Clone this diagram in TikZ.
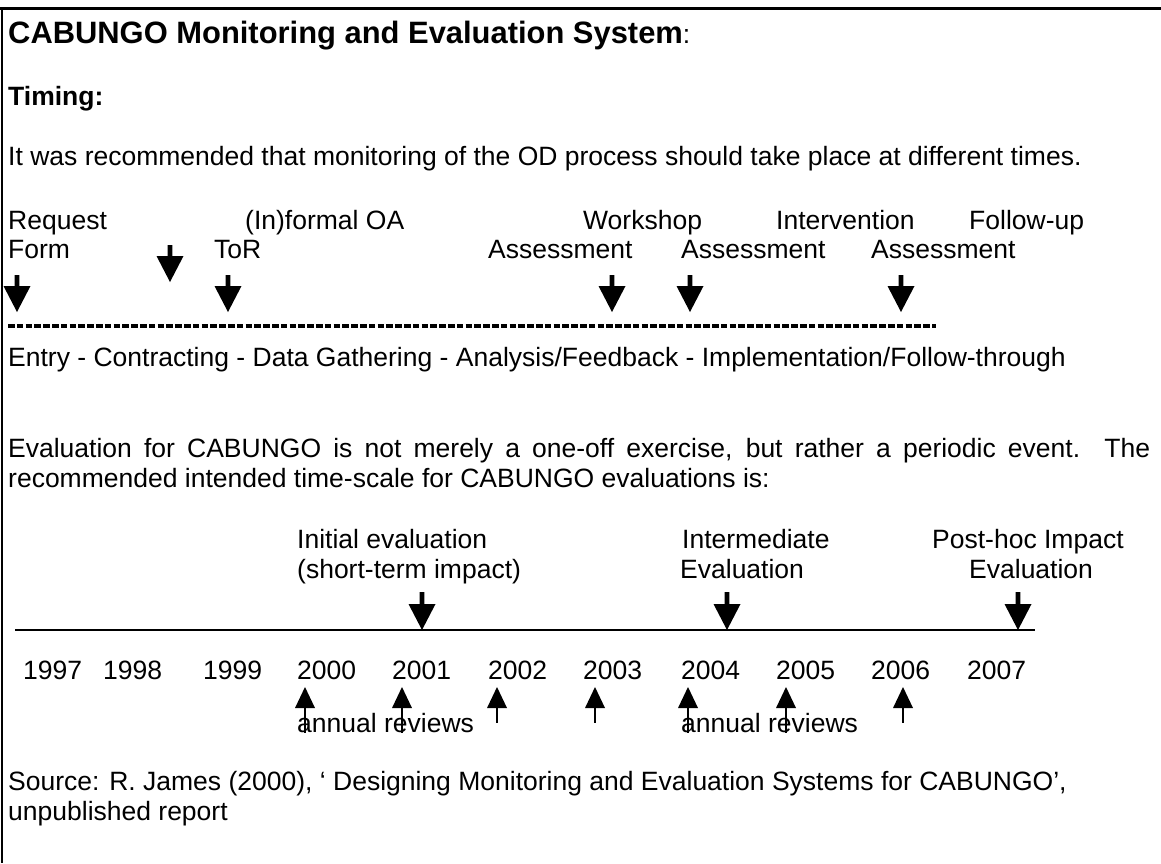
\documentclass[tikz,border=0pt]{standalone}
\usepackage{fontspec}
\setmainfont{Liberation Sans}
\newcommand\bodyfont{\fontsize{26.5}{30.4}\selectfont}
\newcommand\titlefont{\fontsize{30.9}{36}\selectfont\bfseries}
% block arrow pointing down: x, y of shaft top, y of tip
\newcommand\dnarrow[3]{%
  \fill (#1-2.4,#2) -- (#1+2.4,#2) -- (#1+2.4,#3-26) -- (#1+13.5,#3-26) -- (#1,#3)
        -- (#1-13.5,#3-26) -- (#1-2.4,#3-26) -- cycle;}
% thin arrow pointing up: x, y of tip, y of shaft bottom
\newcommand\uparr[3]{%
  \fill (#1,#2) -- (#1+10,#2+21) -- (#1-10,#2+21) -- cycle;
  \draw[line width=1.3pt] (#1,#2+20) -- (#1,#3);}
\begin{document}
\begin{tikzpicture}[x=1pt,y=-1pt,
  every node/.style={inner sep=0pt, anchor=base west, font=\bodyfont},
  rule/.style={line width=2pt},
  dashrule/.style={line width=3.8pt, dash pattern=on 6.6pt off 2.2pt}]
\useasboundingbox (0,0) rectangle (1161,863);
\fill[white] (0,0) rectangle (1161,863);
% frame
\draw[line width=3pt] (0,8) -- (1161,8);
\draw[line width=2pt] (1.5,8) -- (1.5,863);
% headings
\node (title) at (8,43) {{\titlefont CABUNGO Monitoring and Evaluation System}:};
\node (timing) at (8,105) {\bfseries Timing:};
\node (recom) at (8,165) {It was recommended that monitoring of the OD process should take place at different times.};
% process labels
\node (req) at (8,229) {Request};
\node (oa) at (245,229) {(In)formal OA};
\node (ws) at (583,229) {Workshop};
\node (iv) at (776,229) {Intervention};
\node (fu) at (969,229) {Follow-up};
\node (form) at (8,258) {Form};
\node (tor) at (214,258) {ToR};
\node (as1) at (488,258) {Assessment};
\node (as2) at (681,258) {Assessment};
\node (as3) at (871,258) {Assessment};
\dnarrow{17}{275}{312}
\dnarrow{170}{245}{282}
\dnarrow{228}{275}{312}
\dnarrow{612}{275}{312}
\dnarrow{690}{275}{312}
\dnarrow{901}{275}{312}
\coordinate (dl) at (8,326);
\coordinate (dr) at (936,326);
\draw[dashrule] (dl) -- (dr);
\node (phases) at (8,366) {Entry - Contracting - Data Gathering - Analysis/Feedback - Implementation/Follow-through};
% paragraph
\node (ev1) at (8,457) {\makebox[1142pt][s]{Evaluation for CABUNGO is not merely a one-off exercise, but rather a periodic event. The}};
\node (ev2) at (8,487) {recommended intended time-scale for CABUNGO evaluations is:};
% timeline labels
\node (ie1) at (297,548) {Initial evaluation};
\node (ie2) at (297,578) {(short-term impact)};
\node (im1) at (682,548) {Intermediate};
\node (im2) at (680,578) {Evaluation};
\node (ph1) at (932,548) {Post-hoc Impact};
\node (ph2) at (969,578) {Evaluation};
\dnarrow{422}{592}{630}
\dnarrow{727}{592}{630}
\dnarrow{1018}{592}{630}
\coordinate (tl) at (15,630);
\coordinate (tr) at (1035,630);
\draw[rule] (tl) -- (tr);
% years
\node (y1997) at (23,679) {1997};
\node (y1998) at (103,679) {1998};
\node (y1999) at (203,679) {1999};
\node (y2000) at (297,679) {2000};
\node (y2001) at (392,679) {2001};
\node (y2002) at (488,679) {2002};
\node (y2003) at (583,679) {2003};
\node (y2004) at (681,679) {2004};
\node (y2005) at (776,679) {2005};
\node (y2006) at (871,679) {2006};
\node (y2007) at (967,679) {2007};
\uparr{305}{687}{733}
\uparr{402}{687}{733}
\uparr{497}{687}{723}
\uparr{595}{687}{723}
\uparr{688}{687}{733}
\uparr{786}{687}{733}
\uparr{903}{687}{723}
\node (ar1) at (297,732) {annual reviews};
\node (ar2) at (681,732) {annual reviews};
% source
\node (src1) at (8,790) {Source: R. James (2000), ‘ Designing Monitoring and Evaluation Systems for CABUNGO’,};
\node (src2) at (8,820) {unpublished report};
\end{tikzpicture}
\end{document}
